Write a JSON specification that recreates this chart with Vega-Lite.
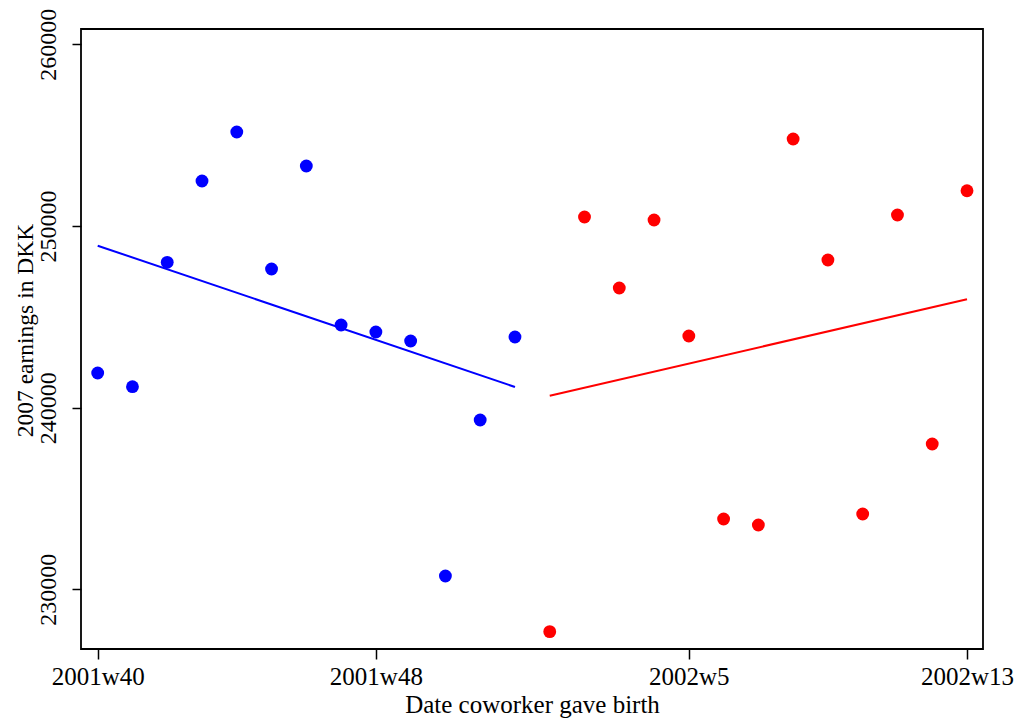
{
  "$schema": "https://vega.github.io/schema/vega-lite/v6.json",
  "width": 902,
  "height": 620,
  "autosize": {"type": "none"},
  "padding": {"left": 81, "top": 29, "right": 34, "bottom": 72},
  "background": "white",
  "config": {
    "view": {"stroke": "#000000", "strokeWidth": 1.8},
    "font": "Liberation Serif",
    "axis": {
      "grid": false,
      "domain": false,
      "tickColor": "#000000",
      "tickWidth": 1.5,
      "labelColor": "#000000",
      "titleColor": "#000000",
      "labelFont": "Liberation Serif",
      "titleFont": "Liberation Serif",
      "titleFontWeight": "normal"
    }
  },
  "datasets": {
    "points": [
      {"week": 0, "earnings": 241908, "side": "before"},
      {"week": 1, "earnings": 241154, "side": "before"},
      {"week": 2, "earnings": 248001, "side": "before"},
      {"week": 3, "earnings": 252476, "side": "before"},
      {"week": 4, "earnings": 255173, "side": "before"},
      {"week": 5, "earnings": 247633, "side": "before"},
      {"week": 6, "earnings": 253302, "side": "before"},
      {"week": 7, "earnings": 244550, "side": "before"},
      {"week": 8, "earnings": 244165, "side": "before"},
      {"week": 9, "earnings": 243670, "side": "before"},
      {"week": 10, "earnings": 230735, "side": "before"},
      {"week": 11, "earnings": 239321, "side": "before"},
      {"week": 12, "earnings": 243890, "side": "before"},
      {"week": 13, "earnings": 227669, "side": "after"},
      {"week": 14, "earnings": 250494, "side": "after"},
      {"week": 15, "earnings": 246587, "side": "after"},
      {"week": 16, "earnings": 250329, "side": "after"},
      {"week": 17, "earnings": 243945, "side": "after"},
      {"week": 18, "earnings": 233873, "side": "after"},
      {"week": 19, "earnings": 233542, "side": "after"},
      {"week": 20, "earnings": 254788, "side": "after"},
      {"week": 21, "earnings": 248128, "side": "after"},
      {"week": 22, "earnings": 234148, "side": "after"},
      {"week": 23, "earnings": 250605, "side": "after"},
      {"week": 24, "earnings": 238000, "side": "after"},
      {"week": 25, "earnings": 251942, "side": "after"}
    ],
    "fits": [
      {"week": 0, "earnings": 248916, "side": "before"},
      {"week": 12, "earnings": 241139, "side": "before"},
      {"week": 13, "earnings": 240660, "side": "after"},
      {"week": 25, "earnings": 245966, "side": "after"}
    ]
  },
  "encoding": {
    "x": {
      "field": "week",
      "type": "quantitative",
      "scale": {"domain": [-0.48, 25.46], "nice": false, "zero": false},
      "axis": {
        "values": [0, 8, 17, 25],
        "labelExpr": "datum.value == 0 ? '2001w40' : datum.value == 8 ? '2001w48' : datum.value == 17 ? '2002w5' : '2002w13'",
        "tickSize": 10,
        "labelPadding": 25,
        "labelBaseline": "alphabetic",
        "labelFontSize": 25,
        "labelFlush": false,
        "labelOverlap": false,
        "title": "Date coworker gave birth",
        "titleFontSize": 25,
        "titleBaseline": "alphabetic",
        "titleY": 63,
        "titleX": 451,
        "titleAlign": "center"
      }
    },
    "y": {
      "field": "earnings",
      "type": "quantitative",
      "scale": {"domain": [226714, 260845], "nice": false, "zero": false},
      "axis": {
        "values": [230000, 240000, 250000, 260000],
        "format": "d",
        "tickSize": 9,
        "labelAngle": -90,
        "labelAlign": "center",
        "labelBaseline": "alphabetic",
        "labelPadding": 17,
        "labelFontSize": 24,
        "labelFlush": false,
        "labelOverlap": false,
        "title": "2007 earnings in DKK",
        "titleFontSize": 23.5,
        "titleAngle": -90,
        "titleAlign": "center",
        "titleBaseline": "alphabetic",
        "titleX": -49,
        "titleY": 301
      }
    },
    "color": {
      "field": "side",
      "type": "nominal",
      "scale": {"domain": ["before", "after"], "range": ["#0000ff", "#ff0000"]},
      "legend": null
    }
  },
  "layer": [
    {
      "data": {"name": "fits"},
      "mark": {"type": "line", "strokeWidth": 2},
      "encoding": {"detail": {"field": "side"}}
    },
    {
      "data": {"name": "points"},
      "mark": {"type": "circle", "size": 165, "opacity": 1}
    }
  ]
}
